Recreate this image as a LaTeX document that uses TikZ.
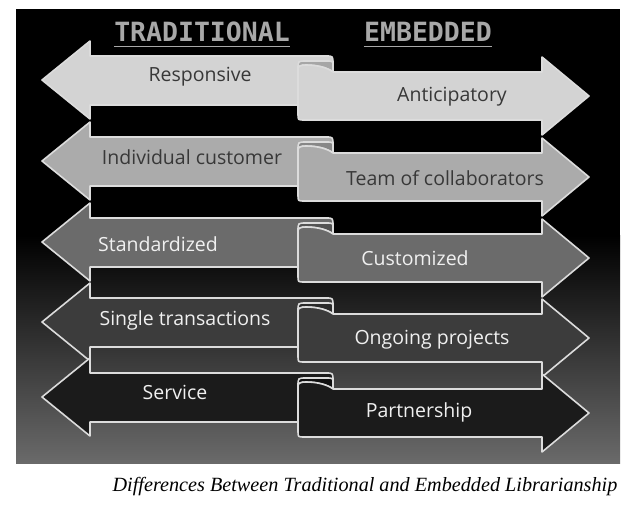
\documentclass[tikz,border=0pt]{standalone}
\usepackage{fontspec}
\newfontfamily\labfont{Open Sans}
\newfontfamily\ttlfont{DejaVu Sans Mono}
\newfontfamily\capfont{Liberation Serif}
\definecolor{edge}{HTML}{DCDCDC}
\definecolor{bgbot}{HTML}{6A6A6A}
\definecolor{fA}{HTML}{D3D3D3}\definecolor{cA}{HTML}{A6A6A6}
\definecolor{fB}{HTML}{ABABAB}\definecolor{cB}{HTML}{878787}
\definecolor{fC}{HTML}{6B6B6B}\definecolor{cC}{HTML}{535353}
\definecolor{fD}{HTML}{3C3C3C}\definecolor{cD}{HTML}{2A2A2A}
\definecolor{fE}{HTML}{1B1B1B}\definecolor{cE}{HTML}{101010}
\definecolor{tdark}{HTML}{383838}
\definecolor{tlight}{HTML}{F0F0F0}
\definecolor{ttlc}{HTML}{A8A8A8}
\tikzset{
  rib/.style={draw=edge, line width=1.6pt, line join=round},
  lab/.style={font=\labfont\fontsize{19.5}{23}\selectfont, inner sep=0pt},
  ttl/.style={font=\ttlfont\bfseries\fontsize{26.5}{31}\selectfont, text=ttlc, inner sep=0pt},
  ul/.style={draw=ttlc, line width=1.6pt},
}
\newcommand\ribbonrow[3]{%
 \pgfmathsetmacro\rwL{#1}%
 \pgfmathsetmacro\rwT{#1-24}%
 \pgfmathsetmacro\rwB{#1+25}%
 \pgfmathsetmacro\rwR{#1-8}%
 \pgfmathsetmacro\rwS{#1+40}%
 \pgfmathsetmacro\rwP{#1+16}%
 \pgfmathsetmacro\rwHa{#1-39}%
 \pgfmathsetmacro\rwHb{#1+39}%
 \pgfmathsetmacro\rwPa{#1+16-39}%
 \pgfmathsetmacro\rwPb{#1+16+39}%
 \pgfmathsetmacro\rwTc{#1-24+8}%
 \pgfmathsetmacro\rwTe{#1-24+5}%
 \pgfmathsetmacro\rwTf{#1-24+10}%
 \pgfmathsetmacro\rwRd{#1-8+5}%
 \pgfmathsetmacro\rwRa{#1-8-3}%
 \pgfmathsetmacro\rwRb{#1-8-4}%
 \pgfmathsetmacro\rwRc{#1-8-7}%
 \pgfmathsetmacro\rwRs{#1-8-6}%
 \pgfmathsetmacro\rwSa{#1+40-6}%
 \draw[rib, fill=#2] (42,\rwL) -- (90,\rwHa) -- (90,\rwT) -- (326,\rwT)
   .. controls (333,\rwT) .. (333,\rwTc) -- (333,\rwRd) -- (298,\rwRd)
   -- (298,\rwB) -- (90,\rwB) -- (90,\rwHb) -- cycle;
 \draw[rib, fill=#3] (298,\rwRa) .. controls (298,\rwTe) .. (306,\rwTe) -- (326,\rwTe)
   .. controls (333,\rwTe) .. (333,\rwTf) -- (333,\rwR)
   .. controls (328,\rwRb) and (318,\rwRc) .. (306,\rwRc)
   .. controls (301,\rwRc) and (298,\rwRs) .. (298,\rwRa) -- cycle;
 \draw[rib, fill=#2] (298,\rwSa) -- (298,\rwRa)
   .. controls (298,\rwRs) and (301,\rwRc) .. (306,\rwRc)
   .. controls (318,\rwRc) and (328,\rwRb) .. (333,\rwR)
   -- (542,\rwR) -- (542,\rwPa) -- (589,\rwP) -- (542,\rwPb) -- (542,\rwS)
   -- (304,\rwS) .. controls (298,\rwS) .. (298,\rwSa) -- cycle;
}
\begin{document}
\begin{tikzpicture}[x=1pt,y=-1pt]
\useasboundingbox (0,0) rectangle (640,512);
\fill[white] (0,0) rectangle (640,512);
\fill[black] (16,9) rectangle (620,463);
\shade[top color=black, bottom color=bgbot] (16,235) rectangle (620,463);
\node[ttl] (h1) at (202,32) {TRADITIONAL};
\node[ttl] (h2) at (428,32) {EMBEDDED};
\draw[ul] ([yshift=-5pt]h1.base west) -- ([yshift=-5pt]h1.base east);
\draw[ul] ([yshift=-5pt]h2.base west) -- ([yshift=-5pt]h2.base east);
\ribbonrow{80}{fA}{cA}
\ribbonrow{161}{fB}{cB}
\ribbonrow{242}{fC}{cC}
\ribbonrow{322}{fD}{cD}
\ribbonrow{397}{fE}{cE}
\node[lab, text=tdark] (l1) at (200,77) {Responsive};
\node[lab, text=tdark] (r1) at (452,97) {Anticipatory};
\node[lab, text=tdark] (l2) at (192,157) {Individual customer};
\node[lab, text=tdark] (r2) at (445,178) {Team of collaborators};
\node[lab, text=tlight] (l3) at (158,244) {Standardized};
\node[lab, text=tlight] (r3) at (415,258) {Customized};
\node[lab, text=tlight] (l4) at (185,320) {Single transactions};
\node[lab, text=tlight] (r4) at (432,340) {Ongoing projects};
\node[lab, text=tlight] (l5) at (175,392) {Service};
\node[lab, text=tlight] (r5) at (419,412) {Partnership};
\node[font=\capfont\itshape\fontsize{20.2}{24}\selectfont, inner sep=0pt] (cap) at (365,487) {Differences Between Traditional and Embedded Librarianship};
\end{tikzpicture}
\end{document}
